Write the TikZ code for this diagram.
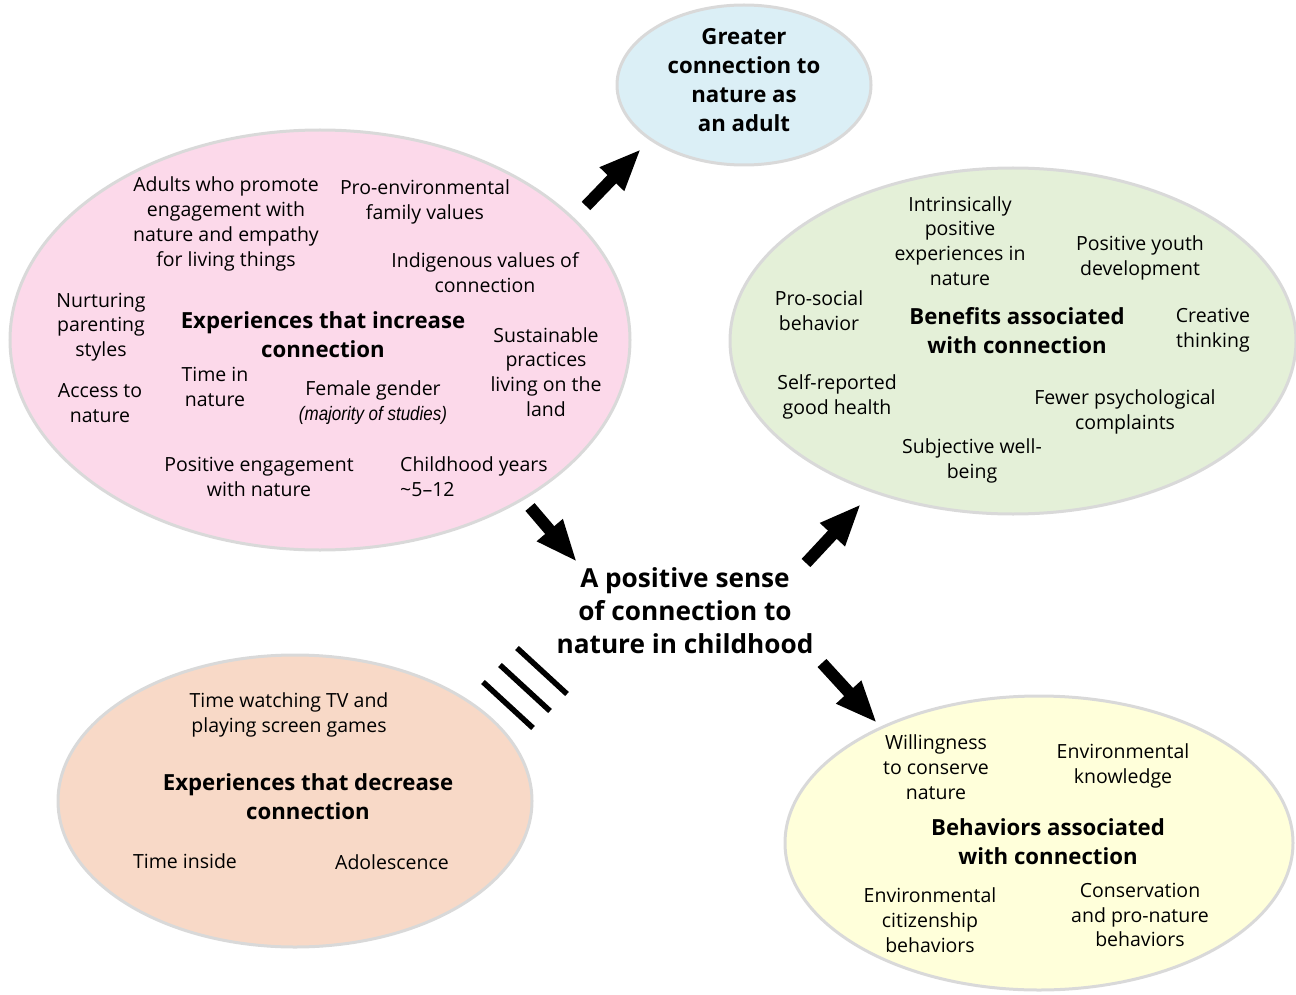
\documentclass[tikz,border=0pt]{standalone}
\usepackage{fontspec}
\setmainfont{Open Sans}
\newfontfamily\narrowit[FakeStretch=0.87]{Liberation Sans}
\usetikzlibrary{shapes.geometric, arrows.meta, positioning}
\definecolor{incpink}{HTML}{FCD9EA}
\definecolor{adultblue}{HTML}{DBEFF6}
\definecolor{benefitgreen}{HTML}{E4F0D8}
\definecolor{decorange}{HTML}{F8D9C7}
\definecolor{behavyellow}{HTML}{FFFFDA}
\definecolor{rimgray}{HTML}{D9D9D9}
\tikzset{
	bubble/.style={ellipse, draw=rimgray, line width=3pt, inner sep=0pt},
	item/.style={align=center, inner sep=0pt, font=\fontsize{19.5}{24.8}\selectfont},
	heading/.style={align=center, inner sep=0pt, font=\fontsize{22.2}{29}\selectfont\bfseries},
	bigarrow/.style={line width=12pt, -{Triangle[length=42pt, width=31pt]}},
	blockline/.style={line width=5.5pt, black},
}

\begin{document}
\begin{tikzpicture}[x=1pt, y=-1pt]
	\useasboundingbox (0,0) rectangle (1296,995);

	% the five bubbles
	\node (inc) [bubble, fill=incpink, minimum width=620pt, minimum height=420pt] at (320,340) {};
	\node (adult) [bubble, fill=adultblue, minimum width=254pt, minimum height=160pt] at (744,85) {};
	\node (benefit) [bubble, fill=benefitgreen, minimum width=566pt, minimum height=346pt] at (1013,341) {};
	\node (dec) [bubble, fill=decorange, minimum width=474pt, minimum height=292pt] at (295,801) {};
	\node (behav) [bubble, fill=behavyellow, minimum width=508pt, minimum height=294pt] at (1039,843) {};

	% experiences that increase connection
	\node (adults) [item] at (226,224) {Adults who promote\\engagement with\\nature and empathy\\for living things};
	\node (profam) [item] at (425,202) {Pro-environmental\\family values};
	\node (indig) [item] at (485,273) {Indigenous values of\\connection};
	\node (nurture) [item] at (101,327) {Nurturing\\parenting\\styles};
	\node (inchead) [heading] at (323,335) {Experiences that increase\\connection};
	\node (sustain) [item] at (546,372) {Sustainable\\practices\\living on the\\land};
	\node (access) [item] at (100,403) {Access to\\nature};
	\node (timein) [item] at (215,387) {Time in\\nature};
	\node (female) [item] at (373,403) {Female gender\\{\narrowit\itshape\fontsize{19.5}{24}\selectfont (majority of studies)}};
	\node (poseng) [item] at (259,477) {Positive engagement\\with nature};
	\node (years) [item, align=left, anchor=west] at (400,477) {Childhood years\\\textasciitilde5--12};

	% adult outcome
	\node (adulthead) [heading] at (744,80) {Greater\\connection to\\nature as\\an adult};

	% benefits
	\node (intrins) [item] at (960,241) {Intrinsically\\positive\\experiences in\\nature};
	\node (youth) [item] at (1140,258) {Positive youth\\development};
	\node (prosoc) [item] at (819,311) {Pro-social\\behavior};
	\node (benhead) [heading] at (1017,331) {Benefits associated\\with connection};
	\node (creative) [item] at (1213,330) {Creative\\thinking};
	\node (health) [item] at (837,397) {Self-reported\\good health};
	\node (fewer) [item] at (1125,412) {Fewer psychological\\complaints};
	\node (wellb) [item] at (972,461) {Subjective well-\\being};

	% experiences that decrease connection
	\node (screen) [item] at (289,715) {Time watching TV and\\playing screen games};
	\node (dechead) [heading] at (308,797) {Experiences that decrease\\connection};
	\node (inside) [item] at (185,861) {Time inside};
	\node (adolesc) [item] at (392,862) {Adolescence};

	% behaviors
	\node (willing) [item] at (936,767) {Willingness\\to conserve\\nature};
	\node (knowl) [item] at (1123,766) {Environmental\\knowledge};
	\node (behhead) [heading] at (1048,842) {Behaviors associated\\with connection};
	\node (citizen) [item] at (930,920) {Environmental\\citizenship\\behaviors};
	\node (conserv) [item] at (1140,915) {Conservation\\and pro-nature\\behaviors};

	% centre
	\node (child) [align=center, inner sep=0pt, font=\fontsize{26.2}{33}\selectfont\bfseries] at (685,611) {A positive sense\\of connection to\\nature in childhood};

	% arrows
	\coordinate (a1s) at (586,206); \coordinate (a1e) at (641,149);
	\coordinate (a2s) at (530,507); \coordinate (a2e) at (577,562);
	\coordinate (a3s) at (806,563); \coordinate (a3e) at (861,504);
	\coordinate (a4s) at (822,663); \coordinate (a4e) at (877,723);
	\draw [bigarrow] (a1s) -- (a1e);
	\draw [bigarrow] (a2s) -- (a2e);
	\draw [bigarrow] (a3s) -- (a3e);
	\draw [bigarrow] (a4s) -- (a4e);

	% blocking lines
	\foreach \k in {0,1,2}
		\draw [blockline, shift={(\k*17,-\k*17)}] (483,682) -- ++(50,46);

\end{tikzpicture}
\end{document}
